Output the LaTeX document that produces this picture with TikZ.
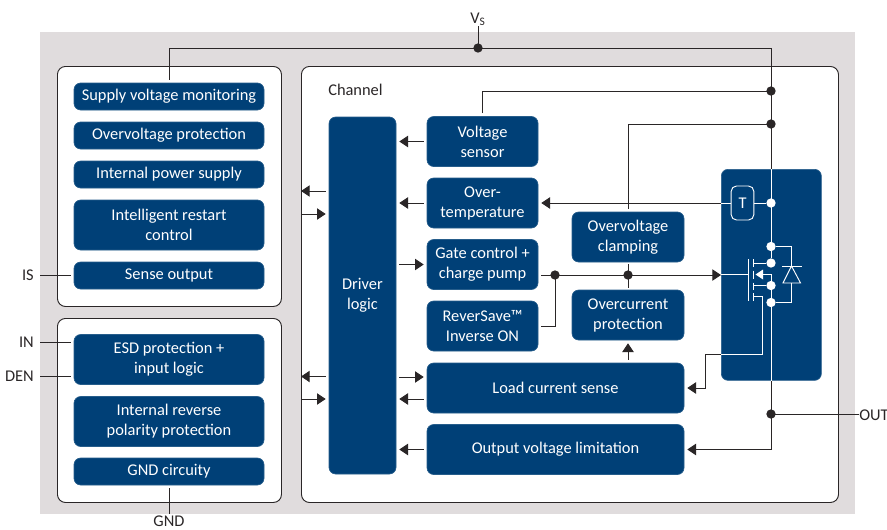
\documentclass[tikz,border=0pt]{standalone}
\usepackage{fontspec}
\setmainfont{Carlito}
\usetikzlibrary{arrows.meta}
\definecolor{panelgray}{HTML}{E0DCDD}
\definecolor{blockblue}{HTML}{004077}
\definecolor{linedark}{HTML}{2A2627}
\tikzset{
	blockbox/.style={fill=blockblue,draw=blockblue!85!white,line width=.5pt,rounded corners=5pt,text=white,align=center,font=\fontsize{12.3}{15}\selectfont,inner sep=0pt},
	framebox/.style={fill=white,draw=linedark,line width=.7pt,rounded corners=6pt,inner sep=0pt,anchor=north west},
	pinlabel/.style={text=linedark,font=\fontsize{12.3}{15}\selectfont,inner sep=0pt},
	wire/.style={draw=linedark,line width=.65pt},
	wirein/.style={draw=white,line width=.7pt},
	gapped/.style={shorten <=2.25pt},
	gappedend/.style={shorten >=2.25pt},
	feed/.style={wire,-{Triangle[length=6.5pt,width=8.5pt]}},
	blackdot/.style={circle,fill=linedark,inner sep=0pt,minimum size=7pt},
	whitedot/.style={circle,fill=white,inner sep=0pt,minimum size=7pt}
}
\begin{document}
\begin{tikzpicture}[x=.75pt,y=-.75pt]
	\useasboundingbox (0,0) rectangle (887,529);
	\fill[panelgray] (40,32) rectangle (855,514);
	\node[framebox,minimum width=168pt,minimum height=180pt] (monitorframe) at (57,66) {};
	\node[framebox,minimum width=168pt,minimum height=138pt] (inputframe) at (57,318) {};
	\node[framebox,minimum width=402.75pt,minimum height=327pt] (channelframe) at (301,66) {};
	\node[pinlabel,anchor=west] (channel) at (328,90) {Channel};
	% left column
	\node[blockbox,minimum width=142.5pt,minimum height=20.25pt] (supply) at (169,96.5) {Supply voltage monitoring};
	\node[blockbox,minimum width=142.5pt,minimum height=20.25pt] (overvoltage) at (169,135.5) {Overvoltage protection};
	\node[blockbox,minimum width=142.5pt,minimum height=20.25pt] (power) at (169,174.5) {Internal power supply};
	\node[blockbox,minimum width=142.5pt,minimum height=37.5pt] (restart) at (169,225) {Intelligent restart\\control};
	\node[blockbox,minimum width=142.5pt,minimum height=20.25pt] (senseout) at (169,275.5) {Sense output};
	\node[blockbox,minimum width=142.5pt,minimum height=37.5pt] (esd) at (169,359.5) {ESD protection +\\input logic};
	\node[blockbox,minimum width=142.5pt,minimum height=37.5pt] (reverse) at (169,421.5) {Internal reverse\\polarity protection};
	\node[blockbox,minimum width=142.5pt,minimum height=20.25pt] (gndcirc) at (169,471.5) {GND circuity};
	% channel blocks
	\node[blockbox,minimum width=50.25pt,minimum height=267.75pt] (driver) at (362.5,295.5) {Driver\\logic};
	\node[blockbox,minimum width=83.25pt,minimum height=37.5pt] (vsensor) at (482.5,141.5) {Voltage\\sensor};
	\node[blockbox,minimum width=83.25pt,minimum height=37.5pt] (overtemp) at (482.5,203) {Over-\\temperature};
	\node[blockbox,minimum width=83.25pt,minimum height=37.5pt] (gate) at (482.5,264.5) {Gate control +\\charge pump};
	\node[blockbox,minimum width=83.25pt,minimum height=37.5pt] (reversave) at (482.5,326) {ReverSave™\\Inverse ON};
	\node[blockbox,minimum width=84pt,minimum height=37.5pt] (clamp) at (628,237) {Overvoltage\\clamping};
	\node[blockbox,minimum width=84pt,minimum height=37.5pt] (overcurrent) at (628,315) {Overcurrent\\protection};
	\node[blockbox,minimum width=192.75pt,minimum height=37.5pt] (loadsense) at (555.5,388) {Load current sense};
	\node[blockbox,minimum width=192.75pt,minimum height=37.5pt] (limit) at (555.5,449.5) {Output voltage limitation};
	\node[blockbox,minimum width=75pt,minimum height=158.25pt,anchor=north west] (switchpanel) at (721,169) {};
	% pins
	\node[pinlabel] (vs) at (478,19.5) {V\textsubscript{S}};
	\node[pinlabel,anchor=east] (is) at (34,275) {IS};
	\node[pinlabel,anchor=east] (in) at (34,342.5) {IN};
	\node[pinlabel,anchor=east] (den) at (34,376.5) {DEN};
	\node[pinlabel] (gnd) at (169,521.5) {GND};
	\node[pinlabel,anchor=west] (out) at (859,415) {OUT};
	% junctions
	\coordinate (railtop) at (771,48);
	\coordinate (vsjoin) at (478,48);
	\coordinate (vsjoint) at (771,91);
	\coordinate (clampjoint) at (771,124);
	\coordinate (outjoint) at (771,414);
	\coordinate (limitjoint) at (771,449.5);
	\coordinate (gatejoint) at (555,275);
	\coordinate (clampnode) at (628,275);
	\coordinate (senseturn) at (705,354);
	\coordinate (isstub) at (40,275);
	\coordinate (instub) at (40,342.5);
	\coordinate (denstub) at (40,376.5);
	\coordinate (gndstub) at (169,514);
	\node[draw=white,line width=.7pt,rounded corners=4pt,minimum width=17pt,minimum height=25.5pt,text=white,font=\fontsize{12.3}{15}\selectfont,inner sep=0pt] (tsensor) at (742.5,203) {T};
	% outer wires
	\draw[wire] (vs.south) -- (vsjoin);
	\draw[wire,gappedend] (railtop) -| (supply.north);
	\draw[wire] (railtop) -- (railtop |- switchpanel.north);
	\draw[wire] (outjoint) -- (outjoint -| out.west);
	\draw[wire] (limitjoint |- switchpanel.south) -- (limitjoint);
	\draw[feed] (limitjoint) -- ([xshift=2.25pt]limit.east);
	\draw[wire,gapped] (vsensor.north) |- (vsjoint);
	\draw[wire,gapped] (clamp.north) |- (clampjoint);
	\draw[wire,gappedend] (isstub) -- (senseout.west |- isstub);
	\draw[wire,gappedend] (instub) -- (esd.west |- instub);
	\draw[wire,gappedend] (denstub) -- (esd.west |- denstub);
	\draw[wire,gapped] (gndcirc.south) -- (gndstub);
	% feeds to and from the driver
	\draw[feed,gapped,gappedend] (vsensor.west) -- (driver.east |- vsensor.west);
	\draw[feed,gapped,gappedend] (overtemp.west) -- (driver.east |- overtemp.west);
	\draw[feed,gapped,gappedend] (driver.east |- gate.west) -- (gate.west);
	\draw[feed,gapped,gappedend] (driver.east |- 0,377) -- (loadsense.west |- 0,377);
	\draw[feed,gapped,gappedend] (loadsense.west |- 0,399) -- (driver.east |- 0,399);
	\draw[feed,gapped,gappedend] (limit.west) -- (driver.east |- limit.west);
	\draw[feed,gapped] (driver.west |- 0,191) -- (channelframe.west |- 0,191);
	\draw[feed,gappedend] (channelframe.west |- 0,214) -- (driver.west |- 0,214);
	\draw[feed,gapped] (driver.west |- 0,376.5) -- (channelframe.west |- 0,376.5);
	\draw[feed,gappedend] (channelframe.west |- 0,399) -- (driver.west |- 0,399);
	% gate line
	\draw[feed,gapped] (gate.east |- gatejoint) -- (switchpanel.west |- gatejoint);
	\draw[wire,gapped] (reversave.east) -| (gatejoint);
	\draw[wire,shorten <=1.5pt,shorten >=1.5pt] (clamp.south) -- (overcurrent.north);
	\draw[feed,gapped,gappedend] (overcurrent.south |- loadsense.north) -- (overcurrent.south);
	\draw[feed] (switchpanel.west |- senseturn) -- (senseturn) |- ([xshift=2.25pt]loadsense.east);
	\draw[feed,gappedend] (switchpanel.west |- tsensor) -- (overtemp.east);
	\node[blackdot] (dotvs) at (vsjoin) {};
	\node[blackdot] (dotsensor) at (vsjoint) {};
	\node[blackdot] (dotclamp) at (clampjoint) {};
	\node[blackdot] (dotout) at (outjoint) {};
	\node[blackdot] (dotgate) at (gatejoint) {};
	\node[blackdot] (dotclampgate) at (clampnode) {};
	% power switch
	\node[whitedot] (drainT) at (771,203) {};
	\node[whitedot] (drainA) at (771,246.5) {};
	\node[whitedot] (drainB) at (771,263) {};
	\node[whitedot] (sourceA) at (771,285.5) {};
	\node[whitedot] (sourceB) at (771,302.5) {};
	\draw[wirein] (drainB |- switchpanel.north) -- (drainB);
	\draw[wirein] (sourceA) -- (sourceA |- switchpanel.south);
	\draw[wirein] (switchpanel.west |- tsensor) -- (tsensor.west);
	\draw[wirein] (tsensor.east) -- (drainT);
	\draw[wirein] (switchpanel.west |- 0,274.5) -- (748,274.5);
	\draw[wirein] (748,259) -- (748,300.5);
	\draw[wirein] (753,259) -- (753,267) (753,270.5) -- (753,279) (753,282.5) -- (753,290) (753,293) -- (753,300.5);
	\draw[wirein] (753,263) -- (drainB);
	\draw[wirein] (753,285.5) -- (sourceA);
	\draw[wirein] (sourceA) |- (762,274.5);
	\fill[white] (755.5,274.5) -- (763,269.5) -- (763,279.5) -- cycle;
	\draw[wirein] (drainA) -| (791.5,266) (791.5,283) |- (sourceB);
	\draw[wirein] (782,266) -- (801.5,266);
	\draw[wirein] (791.5,266) -- (783,283) -- (800.5,283) -- cycle;
	\draw[wirein] (753,296.5) -| (762,354) -- (switchpanel.west |- senseturn);
\end{tikzpicture}
\end{document}
